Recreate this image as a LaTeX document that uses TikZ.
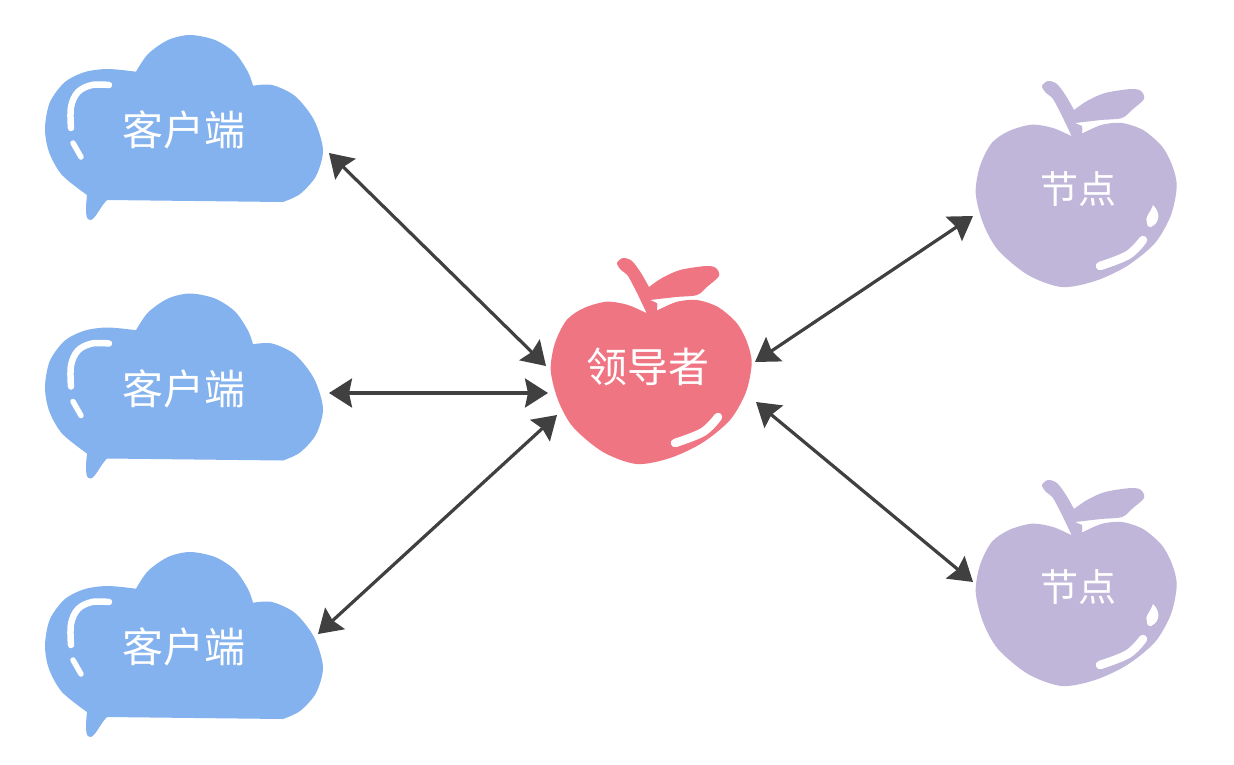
\documentclass[tikz,border=0pt]{standalone}
\usepackage{fontspec}
\newfontfamily\cjk{Noto Sans CJK SC}
\usetikzlibrary{arrows.meta}
\definecolor{cloudblue}{HTML}{84B2EE}
\definecolor{leaderred}{HTML}{F07583}
\definecolor{nodepurple}{HTML}{BFB6DA}
\definecolor{arrowgray}{HTML}{404040}
\tikzset{
  shine/.style={draw=white,line cap=round,line join=round},
  headtip/.tip={Stealth[length=23pt,width=29pt,inset=3pt]},
  link/.style={draw=arrowgray,line width=3.2pt,headtip-headtip},
  label/.style={text=white,inner sep=0pt,font=\cjk\fontsize{41}{43}\selectfont},
  pics/cloudpic/.style={code={
    \fill[cloudblue] plot[smooth,tension=.5] coordinates {(136,71.7)(148,54)(168,40)(190,35)(215,40)(235,53)(248,72)(253,85.7)}
      -- plot[smooth,tension=.5] coordinates {(253,85.7)(272,85)(295,96)(314,120)(323,150)(316,176)(300,194)(283,202)}
      -- (107,200)
      .. controls (100,207) and (96,218) .. (91,220)
      .. controls (86,221) and (85,214) .. (87,195)
      -- plot[smooth,tension=.5] coordinates {(87,195)(62,175)(49,152)(45,128)(50,102)(65,82)(85,72)(108,69)(136,71.7)} -- cycle;
    \draw[shine,line width=6.5pt] plot[smooth,tension=.6] coordinates {(109,85)(92,85)(78,92)(71,107)(71,128)};
    \draw[shine,line width=5.5pt] (73,143) -- (81,157);
  }},
  pics/applepic/.style={code={
    \fill[#1] plot[smooth,tension=.5] coordinates {(646.7,313.3)(628,305)(606.7,301.7)(584,308)(566.7,320)(555,343)(550.7,370)(558,400)(573,427)(603,452)(636.7,464)(670,458)(702,443)(730,420)(746,392)(751.7,363)(747,342)(736.7,323)(718,307)(696.7,300)(676,302)(658,310)}
      -- (657,303) -- (650,300)
      -- plot[smooth,tension=.5] coordinates {(650,300)(676,297)(697,295)(708,286)(719,276)(716,268)(706,266)(680,270)(662,278)(649,287)}
      -- plot[smooth,tension=.5] coordinates {(649,287)(641,273)(632,261)(623,258)(617,263)(621,270)(628,276)(638,295)(646.7,313.3)} -- cycle;
    \fill[white] (658,303) -- (657,310) -- (670,304) -- (680,300) -- cycle;
    \draw[shine,line width=8.5pt] plot[smooth,tension=.6] coordinates {(675,443)(703,432)(718,417)};
  }}
}
\begin{document}
\begin{tikzpicture}[x=1pt,y=-1pt]
\useasboundingbox[fill=white] (0,0) rectangle (1234,764);
% clients
\pic at (0,0) {cloudpic};
\pic at (0,258.5) {cloudpic};
\pic at (0,517) {cloudpic};
\node[label] (client1) at (184,130) {客户端};
\node[label] (client2) at (184,388.5) {客户端};
\node[label] (client3) at (184,647) {客户端};
% leader
\pic at (0,0) {applepic=leaderred};
\node[label] (leader) at (648,367) {领导者};
% followers
\pic at (425,-177) {applepic=nodepurple};
\pic at (425,222) {applepic=nodepurple};
\fill[white] (1147,223) .. controls (1144,217) and (1150,214) .. (1153,205) .. controls (1160,212) and (1161,222) .. (1151,227) .. controls (1149,228) and (1147,226) .. (1147,223) -- cycle;
\fill[white,shift={(0,399)}] (1147,223) .. controls (1144,217) and (1150,214) .. (1153,205) .. controls (1160,212) and (1161,222) .. (1151,227) .. controls (1149,228) and (1147,226) .. (1147,223) -- cycle;
\node[label,font=\cjk\fontsize{38}{40}\selectfont] (node1) at (1078,189) {节点};
\node[label,font=\cjk\fontsize{38}{40}\selectfont] (node2) at (1078,587) {节点};
% connector ends
\coordinate (c1e) at (329,153);
\coordinate (c2e) at (329,393);
\coordinate (c3e) at (318,634);
\coordinate (l1) at (546,366);
\coordinate (l2) at (548,393);
\coordinate (l3) at (557,415);
\coordinate (l4) at (755,362);
\coordinate (l5) at (756,402);
\coordinate (n1e) at (973,216);
\coordinate (n2e) at (973,582);
\draw[link] (c1e) -- (l1);
\draw[link] (c2e) -- (l2);
\draw[link] (c3e) -- (l3);
\draw[link] (l4) -- (n1e);
\draw[link] (l5) -- (n2e);
\end{tikzpicture}
\end{document}
